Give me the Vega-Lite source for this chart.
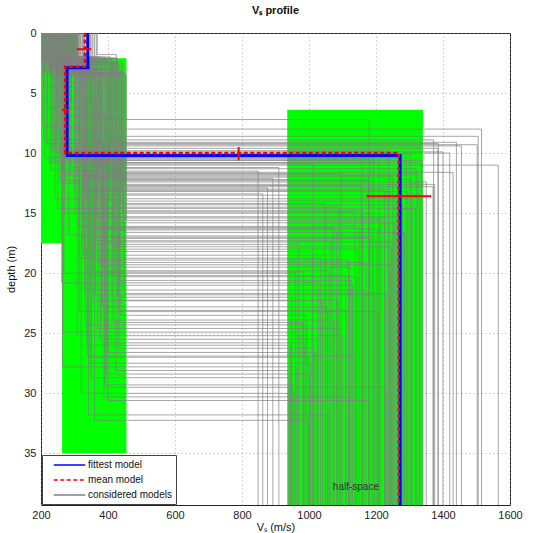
{
  "$schema": "https://vega.github.io/schema/vega-lite/v6.json",
  "width": 469,
  "height": 472,
  "autosize": "none",
  "padding": {"left": 41, "top": 33, "right": 32, "bottom": 28},
  "title": {"text": "Vₛ profile", "fontSize": 11, "fontWeight": "bold", "font": "Liberation Sans", "offset": 11, "color": "#111"},
  "config": {
    "view": {"stroke": "#222", "strokeWidth": 1},
    "font": "Liberation Sans",
    "axis": {"grid": true, "gridDash": [1, 3], "gridColor": "#999", "gridWidth": 0.8, "domain": false, "ticks": false, "labelFontSize": 11, "labelColor": "#222", "titleFontSize": 11, "titleFontWeight": "normal", "titleColor": "#111", "labelFont": "Liberation Sans", "titleFont": "Liberation Sans", "format": "d"}
  },
  "datasets": {
    "ranges": [
      {"x1": 200, "x2": 310, "y1": 0, "y2": 17.5},
      {"x1": 263, "x2": 455, "y1": 2.1, "y2": 35},
      {"x1": 935, "x2": 1340, "y1": 6.4, "y2": 39.3}
    ],
    "models": [
      {"vs1": 215, "zt": 0, "z1": 2.2, "vs2": 300, "z2": 10.5, "vs3": 1180, "zb": 39.3},
      {"vs1": 228, "zt": 0, "z1": 2.6, "vs2": 345, "z2": 12.0, "vs3": 1250, "zb": 39.3},
      {"vs1": 240, "zt": 0, "z1": 3.1, "vs2": 380, "z2": 14.5, "vs3": 1090, "zb": 39.3},
      {"vs1": 252, "zt": 0, "z1": 2.4, "vs2": 410, "z2": 9.1, "vs3": 1440, "zb": 39.3},
      {"vs1": 265, "zt": 0, "z1": 2.9, "vs2": 330, "z2": 18.2, "vs3": 1010, "zb": 39.3},
      {"vs1": 276, "zt": 0, "z1": 3.4, "vs2": 372, "z2": 11.3, "vs3": 1320, "zb": 39.3},
      {"vs1": 288, "zt": 0, "z1": 2.0, "vs2": 268, "z2": 20.0, "vs3": 960, "zb": 39.3},
      {"vs1": 297, "zt": 0, "z1": 2.7, "vs2": 440, "z2": 13.2, "vs3": 1295, "zb": 39.3},
      {"vs1": 305, "zt": 0, "z1": 3.6, "vs2": 312, "z2": 16.1, "vs3": 1150, "zb": 39.3},
      {"vs1": 318, "zt": 0, "z1": 2.3, "vs2": 352, "z2": 10.2, "vs3": 1272, "zb": 39.3},
      {"vs1": 330, "zt": 0, "z1": 2.8, "vs2": 355, "z2": 22.3, "vs3": 1040, "zb": 39.3},
      {"vs1": 342, "zt": 0, "z1": 3.0, "vs2": 395, "z2": 8.6, "vs3": 1505, "zb": 39.3},
      {"vs1": 355, "zt": 0, "z1": 2.5, "vs2": 415, "z2": 24.1, "vs3": 980, "zb": 39.3},
      {"vs1": 368, "zt": 0, "z1": 1.8, "vs2": 425, "z2": 12.6, "vs3": 1375, "zb": 39.3},
      {"vs1": 208, "zt": 0, "z1": 4.5, "vs2": 302, "z2": 15.0, "vs3": 1210, "zb": 39.3},
      {"vs1": 220, "zt": 0, "z1": 6.2, "vs2": 338, "z2": 26.0, "vs3": 945, "zb": 39.3},
      {"vs1": 233, "zt": 0, "z1": 8.4, "vs2": 262, "z2": 11.6, "vs3": 1430, "zb": 39.3},
      {"vs1": 246, "zt": 0, "z1": 10.0, "vs2": 385, "z2": 19.5, "vs3": 1120, "zb": 39.3},
      {"vs1": 258, "zt": 0, "z1": 12.5, "vs2": 345, "z2": 27.5, "vs3": 1005, "zb": 39.3},
      {"vs1": 270, "zt": 0, "z1": 15.0, "vs2": 448, "z2": 21.7, "vs3": 1230, "zb": 39.3},
      {"vs1": 283, "zt": 0, "z1": 16.8, "vs2": 320, "z2": 30.0, "vs3": 955, "zb": 39.3},
      {"vs1": 205, "zt": 0, "z1": 3.3, "vs2": 240, "z2": 9.6, "vs3": 1385, "zb": 39.3},
      {"vs1": 212, "zt": 0, "z1": 2.1, "vs2": 225, "z2": 10.8, "vs3": 1335, "zb": 39.3},
      {"vs1": 224, "zt": 0, "z1": 2.9, "vs2": 252, "z2": 8.0, "vs3": 1515, "zb": 39.3},
      {"vs1": 236, "zt": 0, "z1": 3.8, "vs2": 258, "z2": 9.9, "vs3": 1400, "zb": 39.3},
      {"vs1": 248, "zt": 0, "z1": 5.5, "vs2": 365, "z2": 17.3, "vs3": 1065, "zb": 39.3},
      {"vs1": 260, "zt": 0, "z1": 7.0, "vs2": 436, "z2": 23.5, "vs3": 990, "zb": 39.3},
      {"vs1": 272, "zt": 0, "z1": 2.2, "vs2": 405, "z2": 14.0, "vs3": 1260, "zb": 39.3},
      {"vs1": 285, "zt": 0, "z1": 2.6, "vs2": 350, "z2": 28.7, "vs3": 940, "zb": 39.3},
      {"vs1": 295, "zt": 0, "z1": 3.2, "vs2": 308, "z2": 25.2, "vs3": 1100, "zb": 39.3},
      {"vs1": 310, "zt": 0, "z1": 2.4, "vs2": 430, "z2": 12.2, "vs3": 1305, "zb": 39.3},
      {"vs1": 322, "zt": 0, "z1": 3.9, "vs2": 372, "z2": 19.1, "vs3": 1170, "zb": 39.3},
      {"vs1": 335, "zt": 0, "z1": 2.0, "vs2": 390, "z2": 29.3, "vs3": 952, "zb": 39.3},
      {"vs1": 348, "zt": 0, "z1": 2.8, "vs2": 318, "z2": 11.0, "vs3": 1565, "zb": 39.3},
      {"vs1": 360, "zt": 0, "z1": 3.5, "vs2": 455, "z2": 15.6, "vs3": 1215, "zb": 39.3},
      {"vs1": 218, "zt": 0, "z1": 9.2, "vs2": 326, "z2": 18.5, "vs3": 1050, "zb": 39.3},
      {"vs1": 230, "zt": 0, "z1": 11.4, "vs2": 342, "z2": 31.8, "vs3": 1060, "zb": 39.3},
      {"vs1": 242, "zt": 0, "z1": 13.8, "vs2": 420, "z2": 20.3, "vs3": 1140, "zb": 39.3},
      {"vs1": 254, "zt": 0, "z1": 4.1, "vs2": 398, "z2": 26.6, "vs3": 1020, "zb": 39.3},
      {"vs1": 266, "zt": 0, "z1": 2.5, "vs2": 368, "z2": 13.5, "vs3": 1330, "zb": 39.3},
      {"vs1": 278, "zt": 0, "z1": 3.0, "vs2": 362, "z2": 21.8, "vs3": 1195, "zb": 39.3},
      {"vs1": 290, "zt": 0, "z1": 2.2, "vs2": 400, "z2": 30.6, "vs3": 1180, "zb": 39.3},
      {"vs1": 302, "zt": 0, "z1": 2.7, "vs2": 326, "z2": 10.6, "vs3": 1340, "zb": 39.3},
      {"vs1": 314, "zt": 0, "z1": 3.3, "vs2": 445, "z2": 16.6, "vs3": 1285, "zb": 39.3},
      {"vs1": 326, "zt": 0, "z1": 2.1, "vs2": 265, "z2": 24.9, "vs3": 970, "zb": 39.3},
      {"vs1": 338, "zt": 0, "z1": 3.7, "vs2": 360, "z2": 32.25, "vs3": 1000, "zb": 39.3},
      {"vs1": 210, "zt": 0, "z1": 2.4, "vs2": 415, "z2": 17.8, "vs3": 1245, "zb": 39.3},
      {"vs1": 222, "zt": 0, "z1": 3.0, "vs2": 405, "z2": 12.8, "vs3": 1370, "zb": 39.3},
      {"vs1": 234, "zt": 0, "z1": 2.6, "vs2": 380, "z2": 23.9, "vs3": 1075, "zb": 39.3},
      {"vs1": 245, "zt": 0, "z1": 3.4, "vs2": 448, "z2": 14.8, "vs3": 1160, "zb": 39.3},
      {"vs1": 256, "zt": 0, "z1": 2.0, "vs2": 350, "z2": 27.0, "vs3": 1000, "zb": 39.3},
      {"vs1": 268, "zt": 0, "z1": 2.8, "vs2": 270, "z2": 10.4, "vs3": 1290, "zb": 39.3},
      {"vs1": 280, "zt": 0, "z1": 3.5, "vs2": 435, "z2": 20.6, "vs3": 1125, "zb": 39.3},
      {"vs1": 292, "zt": 0, "z1": 2.3, "vs2": 315, "z2": 18.75, "vs3": 1035, "zb": 39.3},
      {"vs1": 304, "zt": 0, "z1": 6.8, "vs2": 392, "z2": 29.5, "vs3": 1230, "zb": 39.3},
      {"vs1": 316, "zt": 0, "z1": 2.9, "vs2": 316, "z2": 15.4, "vs3": 1225, "zb": 39.3},
      {"vs1": 328, "zt": 0, "z1": 2.2, "vs2": 412, "z2": 22.25, "vs3": 1085, "zb": 39.3},
      {"vs1": 340, "zt": 0, "z1": 3.1, "vs2": 336, "z2": 13.8, "vs3": 1310, "zb": 39.3},
      {"vs1": 352, "zt": 0, "z1": 2.6, "vs2": 432, "z2": 26.25, "vs3": 1015, "zb": 39.3},
      {"vs1": 365, "zt": 0, "z1": 2.0, "vs2": 375, "z2": 9.3, "vs3": 1502, "zb": 39.3},
      {"vs1": 206, "zt": 0, "z1": 7.8, "vs2": 325, "z2": 16.9, "vs3": 1200, "zb": 39.3},
      {"vs1": 214, "zt": 0, "z1": 2.7, "vs2": 340, "z2": 20.2, "vs3": 1110, "zb": 39.3},
      {"vs1": 226, "zt": 0, "z1": 3.2, "vs2": 352, "z2": 11.9, "vs3": 1265, "zb": 39.3},
      {"vs1": 238, "zt": 0, "z1": 2.3, "vs2": 398, "z2": 25.8, "vs3": 985, "zb": 39.3},
      {"vs1": 250, "zt": 0, "z1": 14.6, "vs2": 394, "z2": 19.8, "vs3": 1060, "zb": 39.3},
      {"vs1": 262, "zt": 0, "z1": 3.6, "vs2": 442, "z2": 12.4, "vs3": 1350, "zb": 39.3},
      {"vs1": 274, "zt": 0, "z1": 2.1, "vs2": 424, "z2": 28.1, "vs3": 945, "zb": 39.3},
      {"vs1": 286, "zt": 0, "z1": 2.9, "vs2": 362, "z2": 17.0, "vs3": 1180, "zb": 39.3},
      {"vs1": 298, "zt": 0, "z1": 3.8, "vs2": 350, "z2": 21.0, "vs3": 1130, "zb": 39.3},
      {"vs1": 312, "zt": 0, "z1": 2.4, "vs2": 422, "z2": 14.3, "vs3": 1280, "zb": 39.3},
      {"vs1": 324, "zt": 0, "z1": 5.0, "vs2": 332, "z2": 24.3, "vs3": 995, "zb": 39.3},
      {"vs1": 336, "zt": 0, "z1": 2.5, "vs2": 268, "z2": 11.8, "vs3": 1325, "zb": 39.3},
      {"vs1": 212, "zt": 0, "z1": 3.1, "vs2": 388, "z2": 30.3, "vs3": 1120, "zb": 39.3},
      {"vs1": 226, "zt": 0, "z1": 2.2, "vs2": 336, "z2": 13.0, "vs3": 1238, "zb": 39.3},
      {"vs1": 240, "zt": 0, "z1": 2.8, "vs2": 346, "z2": 16.3, "vs3": 1205, "zb": 39.3},
      {"vs1": 254, "zt": 0, "z1": 3.4, "vs2": 384, "z2": 22.8, "vs3": 1055, "zb": 39.3},
      {"vs1": 268, "zt": 0, "z1": 2.0, "vs2": 408, "z2": 10.0, "vs3": 1420, "zb": 39.3},
      {"vs1": 282, "zt": 0, "z1": 2.6, "vs2": 322, "z2": 18.0, "vs3": 1145, "zb": 39.3},
      {"vs1": 296, "zt": 0, "z1": 3.3, "vs2": 378, "z2": 25.5, "vs3": 1025, "zb": 39.3},
      {"vs1": 310, "zt": 0, "z1": 2.9, "vs2": 420, "z2": 15.8, "vs3": 1255, "zb": 39.3},
      {"vs1": 232, "zt": 0, "z1": 2.5, "vs2": 318, "z2": 7.2, "vs3": 1180, "zb": 39.3},
      {"vs1": 202, "zt": 0, "z1": 2.3, "vs2": 232, "z2": 9.8, "vs3": 1238, "zb": 39.3},
      {"vs1": 207, "zt": 0, "z1": 2.8, "vs2": 244, "z2": 10.3, "vs3": 1192, "zb": 39.3},
      {"vs1": 211, "zt": 0, "z1": 3.2, "vs2": 218, "z2": 9.4, "vs3": 1455, "zb": 39.3},
      {"vs1": 217, "zt": 0, "z1": 2.5, "vs2": 255, "z2": 10.1, "vs3": 1302, "zb": 39.3},
      {"vs1": 221, "zt": 0, "z1": 2.0, "vs2": 208, "z2": 8.9, "vs3": 1372, "zb": 39.3},
      {"vs1": 227, "zt": 0, "z1": 3.5, "vs2": 236, "z2": 10.6, "vs3": 1158, "zb": 39.3},
      {"vs1": 231, "zt": 0, "z1": 2.7, "vs2": 248, "z2": 9.2, "vs3": 1386, "zb": 39.3},
      {"vs1": 237, "zt": 0, "z1": 2.2, "vs2": 212, "z2": 10.4, "vs3": 1268, "zb": 39.3},
      {"vs1": 243, "zt": 0, "z1": 3.0, "vs2": 290, "z2": 11.2, "vs3": 910, "zb": 39.3},
      {"vs1": 249, "zt": 0, "z1": 2.6, "vs2": 334, "z2": 12.1, "vs3": 892, "zb": 39.3},
      {"vs1": 253, "zt": 0, "z1": 3.3, "vs2": 376, "z2": 12.9, "vs3": 876, "zb": 39.3},
      {"vs1": 259, "zt": 0, "z1": 2.1, "vs2": 418, "z2": 13.4, "vs3": 862, "zb": 39.3},
      {"vs1": 263, "zt": 0, "z1": 2.9, "vs2": 306, "z2": 11.5, "vs3": 848, "zb": 39.3},
      {"vs1": 269, "zt": 0, "z1": 2.4, "vs2": 358, "z2": 10.9, "vs3": 1012, "zb": 39.3},
      {"vs1": 273, "zt": 0, "z1": 3.6, "vs2": 404, "z2": 11.7, "vs3": 1096, "zb": 39.3},
      {"vs1": 279, "zt": 0, "z1": 2.3, "vs2": 274, "z2": 12.3, "vs3": 1178, "zb": 39.3},
      {"vs1": 284, "zt": 0, "z1": 2.8, "vs2": 328, "z2": 13.1, "vs3": 1226, "zb": 39.3},
      {"vs1": 289, "zt": 0, "z1": 3.1, "vs2": 438, "z2": 14.2, "vs3": 1048, "zb": 39.3},
      {"vs1": 293, "zt": 0, "z1": 2.5, "vs2": 444, "z2": 14.9, "vs3": 1138, "zb": 39.3},
      {"vs1": 299, "zt": 0, "z1": 2.0, "vs2": 366, "z2": 15.3, "vs3": 1276, "zb": 39.3},
      {"vs1": 303, "zt": 0, "z1": 3.4, "vs2": 402, "z2": 16.4, "vs3": 1082, "zb": 39.3},
      {"vs1": 307, "zt": 0, "z1": 2.7, "vs2": 412, "z2": 17.1, "vs3": 1188, "zb": 39.3},
      {"vs1": 204, "zt": 0, "z1": 2.5, "vs2": 344, "z2": 17.6, "vs3": 968, "zb": 39.3},
      {"vs1": 209, "zt": 0, "z1": 3.0, "vs2": 360, "z2": 18.9, "vs3": 1118, "zb": 39.3},
      {"vs1": 216, "zt": 0, "z1": 2.2, "vs2": 382, "z2": 19.3, "vs3": 1242, "zb": 39.3},
      {"vs1": 223, "zt": 0, "z1": 2.8, "vs2": 262, "z2": 20.8, "vs3": 1028, "zb": 39.3},
      {"vs1": 229, "zt": 0, "z1": 3.4, "vs2": 330, "z2": 21.4, "vs3": 1164, "zb": 39.3},
      {"vs1": 235, "zt": 0, "z1": 2.1, "vs2": 428, "z2": 22.0, "vs3": 948, "zb": 39.3},
      {"vs1": 241, "zt": 0, "z1": 2.9, "vs2": 314, "z2": 23.2, "vs3": 1206, "zb": 39.3},
      {"vs1": 247, "zt": 0, "z1": 2.4, "vs2": 370, "z2": 24.6, "vs3": 1092, "zb": 39.3},
      {"vs1": 252, "zt": 0, "z1": 3.2, "vs2": 338, "z2": 26.9, "vs3": 1138, "zb": 39.3},
      {"vs1": 257, "zt": 0, "z1": 2.6, "vs2": 396, "z2": 28.4, "vs3": 1002, "zb": 39.3},
      {"vs1": 264, "zt": 0, "z1": 2.0, "vs2": 340, "z2": 10.8, "vs3": 1210, "zb": 39.3},
      {"vs1": 271, "zt": 0, "z1": 3.3, "vs2": 452, "z2": 12.7, "vs3": 1156, "zb": 39.3},
      {"vs1": 277, "zt": 0, "z1": 2.5, "vs2": 324, "z2": 14.6, "vs3": 1318, "zb": 39.3},
      {"vs1": 281, "zt": 0, "z1": 8.9, "vs2": 386, "z2": 16.2, "vs3": 1072, "zb": 39.3},
      {"vs1": 287, "zt": 0, "z1": 11.9, "vs2": 388, "z2": 17.4, "vs3": 1248, "zb": 39.3},
      {"vs1": 291, "zt": 0, "z1": 5.8, "vs2": 356, "z2": 19.9, "vs3": 984, "zb": 39.3},
      {"vs1": 300, "zt": 0, "z1": 13.2, "vs2": 432, "z2": 23.1, "vs3": 1110, "zb": 39.3},
      {"vs1": 306, "zt": 0, "z1": 2.2, "vs2": 264, "z2": 27.8, "vs3": 962, "zb": 39.3}
    ],
    "best": [
      {"model": "fittest model", "ord": 1, "vs": 340, "depth": 0},
      {"model": "fittest model", "ord": 2, "vs": 340, "depth": 2.9},
      {"model": "fittest model", "ord": 3, "vs": 278, "depth": 2.9},
      {"model": "fittest model", "ord": 4, "vs": 278, "depth": 10.2},
      {"model": "fittest model", "ord": 5, "vs": 1272, "depth": 10.2},
      {"model": "fittest model", "ord": 6, "vs": 1272, "depth": 39.3},
      {"model": "mean model", "ord": 1, "vs": 331, "depth": 0},
      {"model": "mean model", "ord": 2, "vs": 331, "depth": 2.8},
      {"model": "mean model", "ord": 3, "vs": 272, "depth": 2.8},
      {"model": "mean model", "ord": 4, "vs": 272, "depth": 10.0},
      {"model": "mean model", "ord": 5, "vs": 1268, "depth": 10.0},
      {"model": "mean model", "ord": 6, "vs": 1268, "depth": 39.3}
    ],
    "bars": [
      {"x1": 307, "x2": 350, "y1": 1.35, "y2": 1.35},
      {"x1": 263, "x2": 283, "y1": 6.4, "y2": 6.4},
      {"x1": 790, "x2": 790, "y1": 9.5, "y2": 10.6},
      {"x1": 1172, "x2": 1365, "y1": 13.6, "y2": 13.6}
    ],
    "note": [
      {"vs": 1140, "depth": 37.8, "label": "half-space"}
    ]
  },
  "layer": [
    {
      "data": {"name": "ranges"},
      "mark": {"type": "rect", "color": "#00ff00"},
      "encoding": {
        "x": {"field": "x1", "type": "quantitative", "scale": {"domain": [200, 1600], "nice": false, "zero": false}, "axis": {"title": "Vₛ (m/s)", "values": [200, 400, 600, 800, 1000, 1200, 1400, 1600], "labelPadding": 4, "titlePadding": 1, "labelFlush": false}},
        "x2": {"field": "x2"},
        "y": {"field": "y1", "type": "quantitative", "scale": {"domain": [0, 39.3], "reverse": true, "nice": false, "zero": false}, "axis": {"title": "depth (m)", "values": [0, 5, 10, 15, 20, 25, 30, 35], "labelPadding": 5, "titlePadding": 7, "labelFlush": false}},
        "y2": {"field": "y2"}
      }
    },
    {
      "data": {"name": "models"},
      "mark": {"type": "rule", "color": "#808080", "strokeWidth": 0.7},
      "encoding": {"x": {"field": "vs1", "type": "quantitative"}, "y": {"field": "zt", "type": "quantitative"}, "y2": {"field": "z1"}}
    },
    {
      "data": {"name": "models"},
      "mark": {"type": "rule", "color": "#808080", "strokeWidth": 0.7},
      "encoding": {"x": {"field": "vs1", "type": "quantitative"}, "x2": {"field": "vs2"}, "y": {"field": "z1", "type": "quantitative"}}
    },
    {
      "data": {"name": "models"},
      "mark": {"type": "rule", "color": "#808080", "strokeWidth": 0.7},
      "encoding": {"x": {"field": "vs2", "type": "quantitative"}, "y": {"field": "z1", "type": "quantitative"}, "y2": {"field": "z2"}}
    },
    {
      "data": {"name": "models"},
      "mark": {"type": "rule", "color": "#808080", "strokeWidth": 0.7},
      "encoding": {"x": {"field": "vs2", "type": "quantitative"}, "x2": {"field": "vs3"}, "y": {"field": "z2", "type": "quantitative"}}
    },
    {
      "data": {"name": "models"},
      "mark": {"type": "rule", "color": "#808080", "strokeWidth": 0.7},
      "encoding": {"x": {"field": "vs3", "type": "quantitative"}, "y": {"field": "z2", "type": "quantitative"}, "y2": {"field": "zb"}}
    },
    {
      "data": {"name": "best"},
      "transform": [{"filter": "datum.model === 'fittest model'"}],
      "mark": {"type": "line", "strokeWidth": 3},
      "encoding": {
        "x": {"field": "vs", "type": "quantitative"},
        "y": {"field": "depth", "type": "quantitative"},
        "order": {"field": "ord", "type": "quantitative"},
        "color": {"field": "model", "type": "nominal", "scale": {"domain": ["fittest model", "mean model", "considered models"], "range": ["#0000ff", "#ff0000", "#808080"]},
          "legend": {"title": null, "orient": "bottom-left", "offset": 1, "symbolType": "M-1,0H5", "symbolSize": 110, "symbolOffset": 7, "labelOffset": 23, "fillColor": "white", "strokeColor": "#444", "padding": 4, "rowPadding": 4, "labelFontSize": 10, "labelColor": "#111", "labelFont": "Liberation Sans"}},
        "strokeDash": {"field": "model", "type": "nominal", "scale": {"domain": ["fittest model", "mean model", "considered models"], "range": [[1, 0], [4, 2.5], [1, 0]]}}
      }
    },
    {
      "data": {"name": "best"},
      "transform": [{"filter": "datum.model === 'mean model'"}],
      "mark": {"type": "line", "strokeWidth": 2.5},
      "encoding": {
        "x": {"field": "vs", "type": "quantitative"},
        "y": {"field": "depth", "type": "quantitative"},
        "order": {"field": "ord", "type": "quantitative"},
        "color": {"field": "model", "type": "nominal"},
        "strokeDash": {"field": "model", "type": "nominal"}
      }
    },
    {
      "data": {"name": "bars"},
      "mark": {"type": "rule", "color": "#ff0000", "strokeWidth": 2},
      "encoding": {"x": {"field": "x1", "type": "quantitative"}, "x2": {"field": "x2"}, "y": {"field": "y1", "type": "quantitative"}, "y2": {"field": "y2"}}
    },
    {
      "data": {"name": "note"},
      "mark": {"type": "text", "fontSize": 10, "color": "#333", "baseline": "middle", "align": "center"},
      "encoding": {"x": {"field": "vs", "type": "quantitative"}, "y": {"field": "depth", "type": "quantitative"}, "text": {"field": "label"}}
    }
  ]
}
